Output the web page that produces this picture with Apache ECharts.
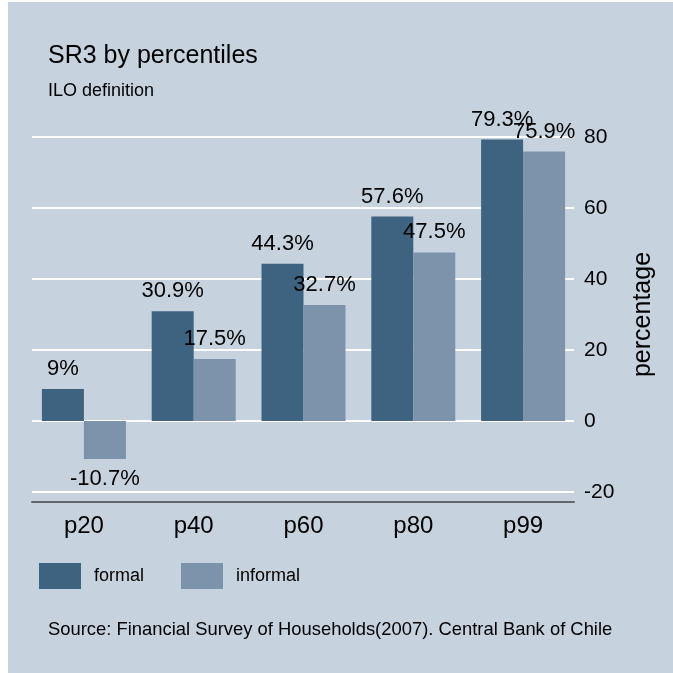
<!DOCTYPE html>
<html>
<head>
<meta charset="utf-8">
<script src="https://cdn.jsdelivr.net/npm/echarts@6/dist/echarts.min.js"></script>
<style>
  html, body { margin: 0; padding: 0; background: #ffffff; }
  #chart { position: absolute; left: 8px; top: 2px; width: 665px; height: 671px; }
</style>
</head>
<body>
<div id="chart"></div>
<script>
const categories = ["p20", "p40", "p60", "p80", "p99"];
const formal = [9, 30.9, 44.3, 57.6, 79.3];
const informal = [-10.7, 17.5, 32.7, 47.5, 75.9];
const yTicks = [-20, 0, 20, 40, 60, 80];

const FONT = "Liberation Sans, Arial, sans-serif";
const DARK = "#3d6380";
const LIGHT = "#7c93ab";

// chart div is shifted 8px right, 2px down; titles/legend have 5px padding
const OX = 8, OY = 2, PAD = 5;

function barData(values) {
  return values.map((v) => ({
    value: v,
    label: { position: v < 0 ? "bottom" : "top" },
  }));
}

const chart = echarts.init(document.getElementById("chart"));

const barLabel = {
  show: true,
  distance: 9,
  color: "#000",
  fontFamily: FONT,
  fontSize: 22,
  formatter: (p) => p.value + "%",
};

chart.setOption({
  backgroundColor: "#c6d3df",
  animation: false,
  title: [
    {
      text: "SR3 by percentiles",
      left: 48 - OX - PAD,
      top: 44 - OY - PAD,
      textStyle: { fontFamily: FONT, fontSize: 25, fontWeight: "normal", color: "#000" },
    },
    {
      text: "ILO definition",
      left: 48 - OX - PAD,
      top: 82 - OY - PAD,
      textStyle: { fontFamily: FONT, fontSize: 18, fontWeight: "normal", color: "#000" },
    },
    {
      text: "Source: Financial Survey of Households(2007). Central Bank of Chile",
      left: 48 - OX - PAD,
      top: 621 - OY - PAD,
      textStyle: { fontFamily: FONT, fontSize: 18.4, fontWeight: "normal", color: "#000" },
    },
  ],
  legend: {
    left: 39 - OX - PAD,
    top: 563 - OY - PAD,
    itemWidth: 42,
    itemHeight: 26,
    itemGap: 37,
    icon: "rect",
    textStyle: { fontFamily: FONT, fontSize: 18, color: "#000", padding: [0, 0, 0, 8] },
    data: ["formal", "informal"],
  },
  grid: [
    // bars
    { left: 29 - OX, right: 95, top: 137 - OY, bottom: 181 },
    // gridlines / right axis
    { left: 32 - OX, right: 99, top: 137 - OY, bottom: 181 },
  ],
  xAxis: [
    {
      type: "category",
      gridIndex: 0,
      data: categories,
      offset: 10,
      axisLine: { show: false },
      axisTick: { show: false },
      axisLabel: { fontFamily: FONT, fontSize: 24, color: "#000", margin: 12 },
    },
    {
      type: "category",
      gridIndex: 1,
      data: categories,
      offset: 10,
      axisLine: { show: true, onZero: false, lineStyle: { color: "#63676c", width: 2 } },
      axisTick: { show: false },
      axisLabel: { show: false },
    },
  ],
  yAxis: [
    {
      type: "value",
      gridIndex: 0,
      min: yTicks[0],
      max: yTicks[yTicks.length - 1],
      interval: 20,
      show: false,
    },
    {
      type: "value",
      gridIndex: 1,
      position: "right",
      min: yTicks[0],
      max: yTicks[yTicks.length - 1],
      interval: 20,
      name: "percentage",
      nameLocation: "middle",
      nameRotate: 90,
      nameGap: 57,
      nameTextStyle: { fontFamily: FONT, fontSize: 25, color: "#000" },
      axisLine: { show: false },
      axisTick: { show: false },
      axisLabel: { fontFamily: FONT, fontSize: 21, color: "#000", margin: 10 },
      splitLine: { show: true, lineStyle: { color: "#ffffff", width: 2 } },
    },
  ],
  series: [
    {
      name: "formal",
      type: "bar",
      xAxisIndex: 0,
      yAxisIndex: 0,
      barWidth: 42,
      barGap: "0%",
      itemStyle: { color: DARK },
      label: barLabel,
      data: barData(formal),
      z: 3,
    },
    {
      name: "informal",
      type: "bar",
      xAxisIndex: 0,
      yAxisIndex: 0,
      barWidth: 42,
      barGap: "0%",
      itemStyle: { color: LIGHT },
      label: barLabel,
      data: barData(informal),
      z: 3,
    },
  ],
});
</script>
</body>
</html>
